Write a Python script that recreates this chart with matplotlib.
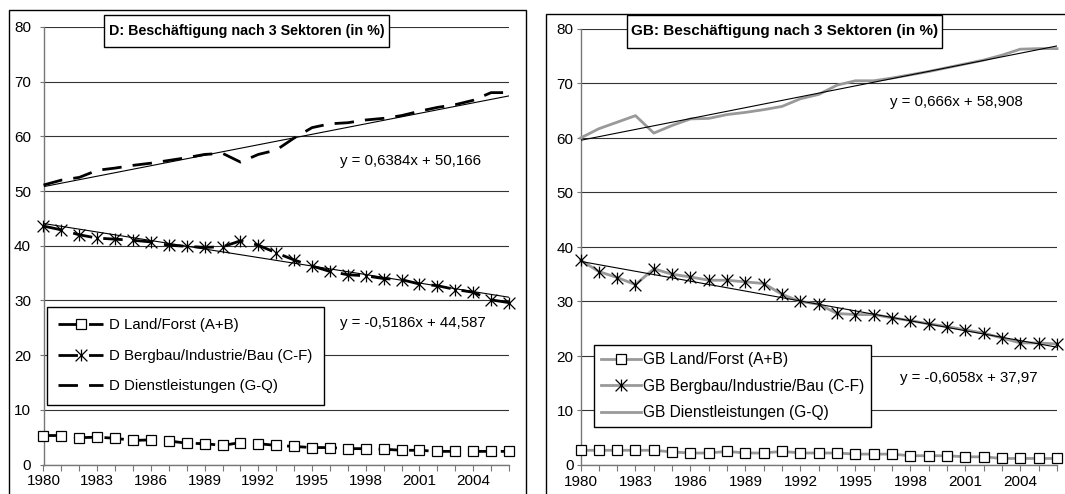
import numpy as np
import matplotlib.pyplot as plt
from matplotlib.path import Path
from matplotlib.patches import Rectangle

plt.rcParams['font.family'] = ['Liberation Sans', 'DejaVu Sans']

# Data
years = list(range(1980, 2007))
tick_years = list(range(1980, 2005, 3))

# Deutschland
d_land = [5.3, 5.3, 4.9, 5.0, 4.8, 4.4, 4.5, 4.3, 3.9, 3.8, 3.5, 4.0, 3.8, 3.5,
          3.3, 3.1, 3.1, 2.9, 2.9, 2.8, 2.6, 2.6, 2.4, 2.4, 2.4, 2.4, 2.4]
d_industrie = [43.6, 42.9, 42.0, 41.4, 41.2, 41.0, 40.7, 40.1, 39.9, 39.7, 39.8,
               40.9, 40.1, 38.7, 37.4, 36.3, 35.3, 34.7, 34.5, 34.0, 33.8, 33.0,
               32.7, 32.0, 31.5, 30.1, 29.6]
d_dienst = [51.1, 52.0, 52.5, 53.8, 54.2, 54.7, 55.1, 55.6, 56.1, 56.7, 56.9,
            55.3, 56.7, 57.5, 59.7, 61.6, 62.3, 62.5, 63.0, 63.3, 63.8, 64.6,
            65.3, 65.8, 66.6, 68.0, 68.0]

# Grossbritannien
gb_land = [2.7, 2.7, 2.7, 2.7, 2.7, 2.4, 2.2, 2.2, 2.5, 2.2, 2.2, 2.5, 2.2, 2.2,
           2.2, 2.0, 2.0, 2.0, 1.7, 1.7, 1.7, 1.5, 1.5, 1.2, 1.2, 1.2, 1.2]
gb_industrie = [37.6, 35.5, 34.4, 33.1, 36.0, 35.0, 34.5, 33.9, 33.9, 33.6, 33.3,
                31.3, 30.0, 29.5, 27.8, 27.6, 27.6, 27.0, 26.5, 25.9, 25.4, 24.8,
                24.2, 23.3, 22.4, 22.4, 22.2]
gb_dienst = [60.0, 61.7, 62.9, 64.1, 60.9, 62.3, 63.5, 63.6, 64.3, 64.7, 65.2,
             65.8, 67.2, 68.0, 69.7, 70.5, 70.5, 71.0, 71.6, 72.2, 72.9, 73.6,
             74.3, 75.2, 76.3, 76.4, 76.4]

# Excel trend lines, x = 1..27
d_trend_dienst = (0.6384, 50.166)
d_trend_industrie = (-0.5186, 44.587)
gb_trend_dienst = (0.666, 58.908)
gb_trend_industrie = (-0.6058, 37.97)

d_labels = ['D Land/Forst (A+B)', 'D Bergbau/Industrie/Bau (C-F)',
            'D Dienstleistungen (G-Q)']
gb_labels = ['GB Land/Forst (A+B)', 'GB Bergbau/Industrie/Bau (C-F)',
             'GB Dienstleistungen (G-Q)']
d_title = 'D: Beschäftigung nach 3 Sektoren (in %)'
gb_title = 'GB: Beschäftigung nach 3 Sektoren (in %)'
d_eqs = ['y = 0,6384x + 50,166', 'y = -0,5186x + 44,587']
gb_eqs = ['y = 0,666x + 58,908', 'y = -0,6058x + 37,97']

W, H = 1065, 494

# Excel-like asterisk marker: X plus vertical bar
star = Path([(0, -1), (0, 1), (-1, -1), (1, 1), (-1, 1), (1, -1)],
            [Path.MOVETO, Path.LINETO, Path.MOVETO, Path.LINETO,
             Path.MOVETO, Path.LINETO])


def fx(px):
    return px / W


def fy(py):
    return 1 - py / H


def box(fig, x0, y0, x1, y1):
    r = Rectangle((fx(x0), fy(y1)), fx(x1) - fx(x0), fy(y0) - fy(y1),
                  transform=fig.transFigure, fill=False, ec='black', lw=1.0,
                  clip_on=False)
    fig.add_artist(r)


def panel(ax, land, ind, dienst, tr_d, tr_i, color, dashed, labels, ypad):
    lw = 2.0
    kw = dict(color=color, lw=lw, clip_on=False, zorder=3)
    if dashed:
        kw['dashes'] = [7, 4]
    h1, = ax.plot(years, land, marker='s', ms=6.8, mfc='white', mec='black',
                  mew=0.9, label=labels[0], **kw)
    h2, = ax.plot(years, ind, marker=star, ms=8.5, mec='black', mew=0.9,
                  label=labels[1], **kw)
    h3, = ax.plot(years, dienst, label=labels[2], **kw)

    x = np.arange(1, len(years) + 1)
    for a, b in (tr_d, tr_i):
        ax.plot(years, a * x + b, color='black', lw=0.8, zorder=4)

    ax.set_xlim(1980, 2006)
    ax.set_ylim(0, 80)
    ax.set_yticks(range(0, 81, 10))
    ax.set_xticks(years)
    ax.set_xticklabels([str(y) if y in tick_years else '' for y in years])
    ax.yaxis.grid(True, color='#333333', lw=0.8)
    ax.set_axisbelow(True)
    for s in ('top', 'right'):
        ax.spines[s].set_visible(False)
    for s in ('left', 'bottom'):
        ax.spines[s].set_color('#777777')
        ax.spines[s].set_linewidth(1.0)
    ax.tick_params(axis='y', length=3, width=0.8, color='#777777',
                   labelsize=11, pad=ypad)
    ax.tick_params(axis='x', length=4, width=0.8, color='#777777',
                   labelsize=11, pad=3)
    return [h1, h2, h3]


fig = plt.figure(figsize=(W / 100, H / 100), dpi=100)

# left: Deutschland
ax1 = fig.add_axes([fx(43.5), fy(464.5), fx(509) - fx(43.5), fy(27) - fy(464.5)])
h = panel(ax1, d_land, d_industrie, d_dienst, d_trend_dienst, d_trend_industrie,
          'black', True, d_labels, 6)
leg = ax1.legend(h, d_labels, loc='upper left',
                 bbox_to_anchor=((47 - 43.5) / 465.5, (464.5 - 307) / 437.5),
                 fontsize=10.8, frameon=True, fancybox=False, framealpha=1,
                 edgecolor='black', handlelength=3.0, handletextpad=0.4,
                 labelspacing=1.1, borderpad=0.75, borderaxespad=0)
leg.get_frame().set_linewidth(1.0)

# right: Grossbritannien
ax2 = fig.add_axes([fx(580.5), fy(465), fx(1057) - fx(580.5), fy(29) - fy(465)])
h = panel(ax2, gb_land, gb_industrie, gb_dienst, gb_trend_dienst,
          gb_trend_industrie, '#999999', False, gb_labels, 2)
leg = ax2.legend(h, gb_labels, loc='upper left',
                 bbox_to_anchor=((594 - 580.5) / 476.5, (465 - 345) / 436),
                 fontsize=11.2, frameon=True, fancybox=False, framealpha=1,
                 edgecolor='black', handlelength=2.6, handletextpad=0.1,
                 labelspacing=0.75, borderpad=0.45, borderaxespad=0)
leg.get_frame().set_linewidth(1.0)

# outer chart frames
box(fig, 9, 10, 526, 510)
box(fig, 546, 14, 1080, 510)

# title boxes
for (x0, y0, x1, y1), t, fs in (((104, 15, 389, 47), d_title, 10.3),
                                ((627, 15, 942, 48), gb_title, 11.0)):
    r = Rectangle((fx(x0), fy(y1)), fx(x1) - fx(x0), fy(y0) - fy(y1),
                  transform=fig.transFigure, fc='white', ec='black', lw=1.0,
                  zorder=5)
    fig.add_artist(r)
    fig.text(fx((x0 + x1) / 2), fy((y0 + y1) / 2), t, ha='center', va='center',
             fontsize=fs, fontweight='bold', zorder=6)

# trend equations
for (px, py), t in zip([(340, 161.5), (340, 323), (890, 102), (900, 378)],
                       d_eqs + gb_eqs):
    fig.text(fx(px), fy(py), t, ha='left', va='center', fontsize=10.8)

plt.savefig('out.png', dpi=100)
